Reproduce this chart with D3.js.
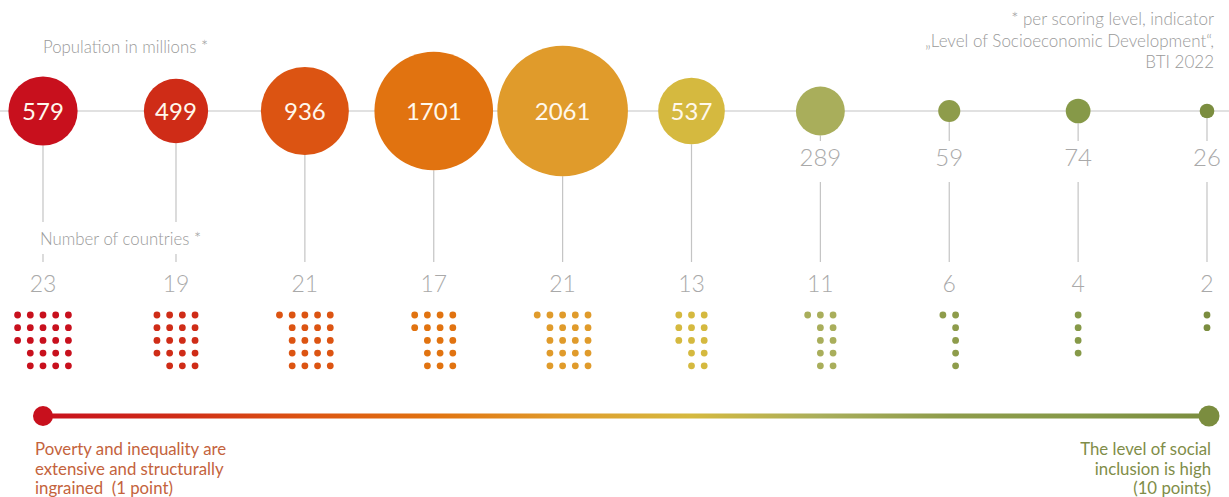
<!DOCTYPE html>
<html><head><meta charset="utf-8">
<script src="https://cdn.jsdelivr.net/npm/d3@7"></script>
<style>
body{margin:0;background:#fff;}
svg{display:block;font-family:Lato,"Open Sans",sans-serif;}
text{white-space:pre;}
</style>
</head><body><svg id="c" width="1229" height="497"></svg>
<script>
// ---- data ----
const levels = [1,2,3,4,5,6,7,8,9,10];
const population = [579,499,936,1701,2061,537,289,59,74,26];
const countries = [23,19,21,17,21,13,11,6,4,2];
const colors = ["#c8101d","#cf2c17","#dc5412","#e17310","#e09b2b","#d5b93f","#a9ae5b","#8e9c4b","#869948","#7b8d3f"];
const noteLines = ["* per scoring level, indicator","\u201eLevel of Socioeconomic Development\u201c,","BTI 2022"];
const leftLabel = ["Poverty and inequality are","extensive and structurally","ingrained  (1 point)"];
const rightLabel = ["The level of social","inclusion is high","(10 points)"];

const svg = d3.select("#c");
const x = d3.scaleLinear().domain([1,2,10]).range([43,176,1207]);
const r = d3.scaleSqrt().domain([0,2061]).range([0,65.3]);
const axisY = 111;
const gray = "#a9a9a9";

// horizontal axis line
svg.append("line").attr("x1",0).attr("x2",1229).attr("y1",axisY).attr("y2",axisY)
  .attr("stroke","#c4c4c4").attr("stroke-width",1.2);

const data = levels.map((l,i)=>({level:l,pop:population[i],n:countries[i],color:colors[i]}));

// vertical connector lines
data.forEach((d,i)=>{
  const cx = x(d.level), rr = r(d.pop);
  const inside = rr > 30;
  let segs;
  if (inside) {
    if (i < 2) segs = [[axisY+rr, 222],[254, 262]];
    else segs = [[axisY+rr, 262]];
  } else {
    segs = [[axisY+rr, 141],[182, 262]];
  }
  segs.forEach(s=>{
    svg.append("line").attr("x1",cx).attr("x2",cx).attr("y1",s[0]).attr("y2",s[1])
      .attr("stroke","#c4c4c4").attr("stroke-width",1.2);
  });
});

// bubbles
svg.append("g").selectAll("circle").data(data).join("circle")
  .attr("cx",d=>x(d.level)).attr("cy",axisY).attr("r",d=>r(d.pop))
  .attr("fill",d=>d.color);

// bubble labels
svg.append("g").selectAll("text").data(data).join("text")
  .attr("x",d=>x(d.level))
  .attr("y",d=> r(d.pop) > 30 ? axisY+8.5 : 166)
  .attr("text-anchor","middle")
  .attr("font-size",24)
  .attr("font-weight",d=> r(d.pop) > 30 ? 400 : 300)
  .attr("fill",d=> r(d.pop) > 30 ? "#fff8ec" : gray)
  .text(d=>d.pop);

// count labels
svg.append("g").selectAll("text").data(data).join("text")
  .attr("x",d=>x(d.level)).attr("y",292)
  .attr("text-anchor","middle").attr("font-size",23).attr("font-weight",300)
  .attr("fill",gray).text(d=>d.n);

// dot grids
const sp = 12.7, dotR = 3.4, gridTop = 315;
data.forEach(d=>{
  const ncol = Math.ceil(d.n/5);
  const full = Math.floor(d.n/5);
  const rem = d.n - full*5;
  const cx = x(d.level);
  const pts = [];
  for (let c=0;c<ncol;c++){
    const count = (rem>0 && c===0) ? rem : 5;
    for (let k=0;k<count;k++) pts.push([cx + (c-(ncol-1)/2)*sp, gridTop + k*sp]);
  }
  svg.append("g").selectAll("circle").data(pts).join("circle")
    .attr("cx",p=>p[0]).attr("cy",p=>p[1]).attr("r",dotR).attr("fill",d.color);
});

// titles
svg.append("text").attr("x",43).attr("y",53).attr("font-size",16.8).attr("font-weight",300)
  .attr("fill","#9a9a9a").text("Population in millions *");
svg.append("text").attr("x",40).attr("y",245).attr("font-size",16.8).attr("font-weight",300)
  .attr("fill","#9a9a9a").text("Number of countries *");

svg.append("g").selectAll("text").data(noteLines).join("text")
  .attr("x",1214).attr("y",(d,i)=>25+i*21.5).attr("text-anchor","end")
  .attr("font-size",17).attr("font-weight",300).attr("fill","#9a9a9a").text(d=>d);

// gradient scale line
const defs = svg.append("defs");
const grad = defs.append("linearGradient").attr("id","g1")
  .attr("gradientUnits","userSpaceOnUse").attr("x1",43).attr("x2",1209).attr("y1",0).attr("y2",0);
grad.selectAll("stop").data(data).join("stop")
  .attr("offset",d=>(x(d.level)-43)/(1209-43)).attr("stop-color",d=>d.color);
svg.append("line").attr("x1",43).attr("x2",1209).attr("y1",416).attr("y2",416)
  .attr("stroke","url(#g1)").attr("stroke-width",5);
svg.append("circle").attr("cx",43).attr("cy",416).attr("r",10).attr("fill",colors[0]);
svg.append("circle").attr("cx",1209).attr("cy",416).attr("r",10.5).attr("fill",colors[9]);

svg.append("g").selectAll("text").data(leftLabel).join("text")
  .attr("x",35).attr("y",(d,i)=>455+i*19.5).attr("font-size",16.8)
  .attr("fill","#c4633c").text(d=>d);
svg.append("g").selectAll("text").data(rightLabel).join("text")
  .attr("x",1211).attr("y",(d,i)=>455+i*19.5).attr("text-anchor","end").attr("font-size",16.8)
  .attr("fill","#7f8d48").text(d=>d);
</script>
</body></html>
